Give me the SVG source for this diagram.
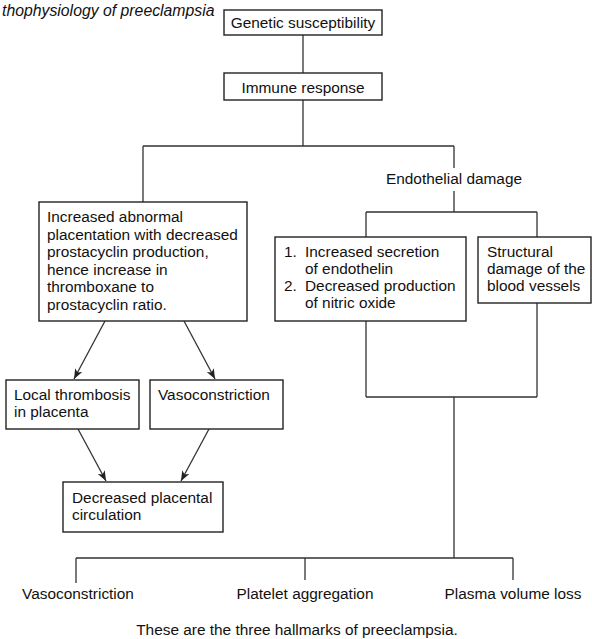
<svg xmlns="http://www.w3.org/2000/svg" width="592" height="639" viewBox="0 0 592 639">
<style>
text{font-family:"Liberation Sans",Arial,sans-serif;font-size:15.4px;fill:#111}
.box{fill:#fff;stroke:#222;stroke-width:1.4}
.ln{fill:none;stroke:#333;stroke-width:1.3}
.mid{text-anchor:middle}
</style>
<defs>
<marker id="ah" markerUnits="userSpaceOnUse" markerWidth="12" markerHeight="10" refX="10" refY="4" orient="auto">
<path d="M0,0 L10,4 L0,8 L2.5,4 z" fill="#222"/>
</marker>
</defs>
<rect width="592" height="639" fill="#fff"/>
<text x="2" y="16" font-style="italic" style="font-size:15.8px">thophysiology of preeclampsia</text>
<g id="connectors">
<path class="ln" d="M303,35 V73"/>
<path class="ln" d="M303,100 V146 M143,146 H454 M143,146 V202 M454,146 V168"/>
<path class="ln" d="M454,191 V212 M366,212 H537 M366,212 V237 M537,212 V237"/>
<path class="ln" d="M366,321 V397 M537,303 V397 M366,397 H537 M454,397 V558"/>
<path class="ln" d="M76,558 H513 M76,558 V583 M305,558 V580 M513,558 V580"/>
<path class="ln" d="M105,321 L74,379" marker-end="url(#ah)"/>
<path class="ln" d="M184,321 L215,379" marker-end="url(#ah)"/>
<path class="ln" d="M78,429 L106,481" marker-end="url(#ah)"/>
<path class="ln" d="M209,429 L181,481" marker-end="url(#ah)"/>
</g>
<g id="genetic">
<rect class="box" x="224" y="10" width="158" height="25"/>
<text class="mid" x="303" y="28">Genetic susceptibility</text>
</g>
<g id="immune">
<rect class="box" x="224" y="73" width="158" height="27"/>
<text class="mid" x="303" y="93">Immune response</text>
</g>
<g id="endothelial">
<text class="mid" x="454" y="184">Endothelial damage</text>
</g>
<g id="placentation">
<rect class="box" x="39" y="202" width="208" height="119"/>
<text x="47" y="222">Increased abnormal</text>
<text x="47" y="239.5">placentation with decreased</text>
<text x="47" y="257">prostacyclin production,</text>
<text x="47" y="274.5">hence increase in</text>
<text x="47" y="292">thromboxane to</text>
<text x="47" y="309.5">prostacyclin ratio.</text>
</g>
<g id="secretion">
<rect class="box" x="275" y="237" width="191" height="84"/>
<text x="284" y="256.5">1.</text>
<text x="305" y="256.5">Increased secretion</text>
<text x="305" y="273.5">of endothelin</text>
<text x="284" y="290.5">2.</text>
<text x="305" y="290.5">Decreased production</text>
<text x="305" y="307.5">of nitric oxide</text>
</g>
<g id="structural">
<rect class="box" x="478" y="237" width="113" height="66"/>
<text x="487" y="256.5">Structural</text>
<text x="487" y="273.5">damage of the</text>
<text x="487" y="290.5">blood vessels</text>
</g>
<g id="thrombosis">
<rect class="box" x="6" y="380" width="133" height="49"/>
<text x="14" y="400">Local thrombosis</text>
<text x="14" y="417">in placenta</text>
</g>
<g id="vasoconstriction1">
<rect class="box" x="150" y="380" width="133" height="49"/>
<text x="158" y="400">Vasoconstriction</text>
</g>
<g id="decreased">
<rect class="box" x="63" y="482" width="160" height="50"/>
<text x="72" y="503">Decreased placental</text>
<text x="72" y="520">circulation</text>
</g>
<g id="hallmark-vaso"><text class="mid" x="78" y="599">Vasoconstriction</text></g>
<g id="hallmark-platelet"><text class="mid" x="305" y="599">Platelet aggregation</text></g>
<g id="hallmark-plasma"><text class="mid" x="513" y="599">Plasma volume loss</text></g>
<g id="footer"><text class="mid" x="297" y="635">These are the three hallmarks of preeclampsia.</text></g>
</svg>
